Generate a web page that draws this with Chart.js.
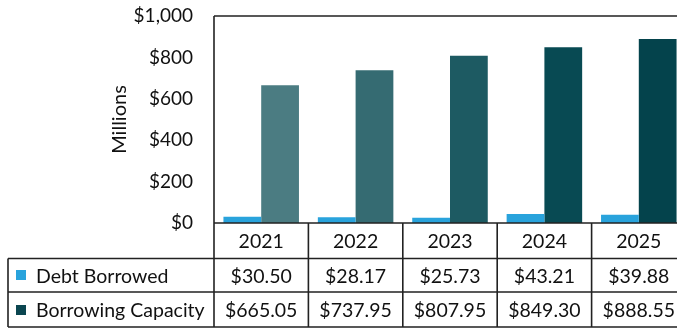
<!DOCTYPE html>
<html>
<head>
<meta charset="utf-8">
<title>Debt Borrowed vs Borrowing Capacity</title>
<script src="https://cdn.jsdelivr.net/npm/chart.js@4.4.1/dist/chart.umd.min.js"></script>
<style>
  html, body { margin: 0; padding: 0; overflow: hidden; background: #fff; }
  #wrap { width: 688px; height: 329px; }
</style>
</head>
<body>
<div id="wrap"><canvas id="debtChart" width="688" height="329"></canvas></div>
<script>
const years = ['2021', '2022', '2023', '2024', '2025'];
const debtBorrowed = [30.50, 28.17, 25.73, 43.21, 39.88];
const borrowingCapacity = [665.05, 737.95, 807.95, 849.30, 888.55];
const yTicks = [0, 200, 400, 600, 800, 1000];

const debtColor = '#29a3dc';
const capacityColors = ['#4b7c82', '#356b72', '#1d5a62', '#084a53', '#04434c'];
const capacityKeyColor = '#0b4650';
const lineColor = '#222';
const textColor = '#111';
const fontFamily = 'Lato, "Open Sans", sans-serif';

const money = v => '$' + v.toFixed(2);

// data table under the x axis, lined up with the category columns
const dataTable = {
  id: 'dataTable',
  afterDraw(chart) {
    const { ctx, chartArea } = chart;
    const left = chartArea.left;
    const right = chartArea.right;
    const base = chartArea.bottom;
    const colW = chartArea.width / years.length;
    const rowTop = 258.5, rowMid = 292, rowBot = 327;
    const tableLeft = 8;

    ctx.save();
    ctx.strokeStyle = lineColor;
    ctx.lineWidth = 1.6;
    ctx.beginPath();
    // plot frame: top and left edge
    ctx.moveTo(left, chartArea.top);
    ctx.lineTo(right, chartArea.top);
    ctx.moveTo(left, chartArea.top);
    ctx.lineTo(left, rowBot);
    // horizontal rules
    ctx.moveTo(left, base); ctx.lineTo(right, base);
    ctx.moveTo(tableLeft, rowTop); ctx.lineTo(right, rowTop);
    ctx.moveTo(tableLeft, rowMid); ctx.lineTo(right, rowMid);
    ctx.moveTo(tableLeft, rowBot); ctx.lineTo(right, rowBot);
    // vertical rules
    ctx.moveTo(tableLeft, rowTop); ctx.lineTo(tableLeft, rowBot);
    for (let i = 1; i <= years.length; i++) {
      const x = left + i * colW;
      ctx.moveTo(x, base); ctx.lineTo(x, rowBot);
    }
    ctx.stroke();

    ctx.fillStyle = textColor;
    ctx.font = '19.5px ' + fontFamily;
    ctx.textAlign = 'center';
    ctx.textBaseline = 'middle';
    years.forEach((yr, i) => {
      const cx = left + (i + 0.5) * colW;
      ctx.fillText(yr, cx, (base + rowTop) / 2 + 1);
      ctx.fillText(money(debtBorrowed[i]), cx, (rowTop + rowMid) / 2 + 1);
      ctx.fillText(money(borrowingCapacity[i]), cx, (rowMid + rowBot) / 2 + 1);
    });

    // row labels with their colour keys
    ctx.textAlign = 'left';
    ctx.fillStyle = debtColor;
    ctx.fillRect(16, 270, 10, 10);
    ctx.fillStyle = capacityKeyColor;
    ctx.fillRect(16, 305, 10, 10);
    ctx.fillStyle = textColor;
    ctx.fillText('Debt Borrowed', 36, (rowTop + rowMid) / 2 + 1);
    ctx.fillText('Borrowing Capacity', 36, (rowMid + rowBot) / 2 + 1);
    ctx.restore();
  }
};

new Chart(document.getElementById('debtChart'), {
  type: 'bar',
  data: {
    labels: years,
    datasets: [
      {
        label: 'Debt Borrowed',
        data: debtBorrowed,
        backgroundColor: debtColor
      },
      {
        label: 'Borrowing Capacity',
        data: borrowingCapacity,
        backgroundColor: capacityColors
      }
    ]
  },
  options: {
    responsive: false,
    animation: false,
    categoryPercentage: 0.8,
    barPercentage: 1.0,
    layout: { padding: { left: 105, top: 16, right: 2, bottom: 0 } },
    plugins: {
      legend: { display: false },
      tooltip: { enabled: false }
    },
    scales: {
      x: {
        grid: { display: false, drawTicks: false },
        border: { display: false },
        ticks: { display: false },
        afterFit(scale) { scale.height = 106; }
      },
      y: {
        min: 0,
        max: 1000,
        afterBuildTicks(scale) { scale.ticks = yTicks.map(v => ({ value: v })); },
        afterFit(scale) {
          scale.width = 109;
          scale.paddingTop = 0;
          scale.paddingBottom = 0;
        },
        grid: { display: false, drawTicks: false },
        border: { display: false },
        ticks: {
          padding: 21,
          color: textColor,
          font: { family: fontFamily, size: 19 },
          callback: v => '$' + v.toLocaleString('en-US')
        },
        title: {
          display: true,
          text: 'Millions',
          color: textColor,
          font: { family: fontFamily, size: 20 },
          padding: { top: 3, bottom: 3 }
        }
      }
    }
  },
  plugins: [dataTable]
});
</script>
</body>
</html>
